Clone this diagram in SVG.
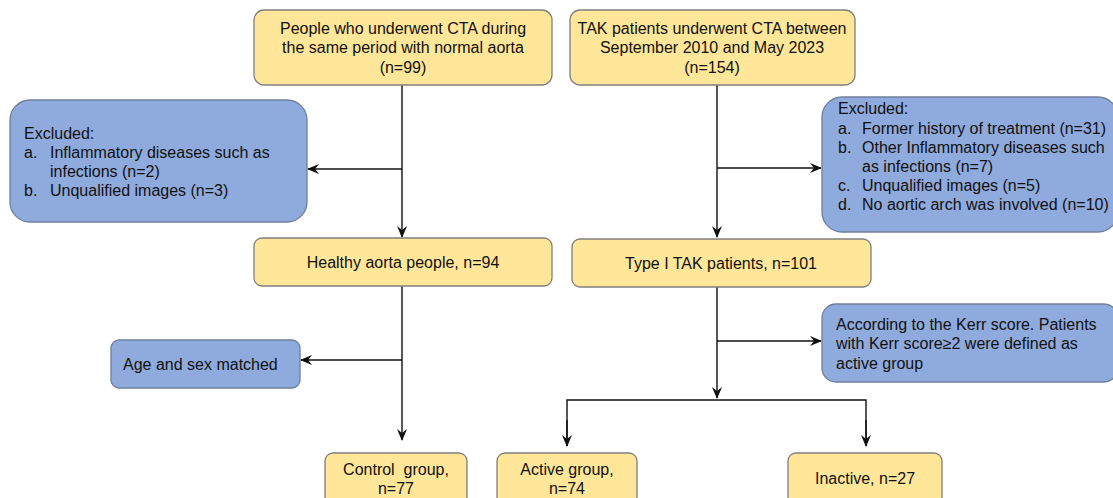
<svg xmlns="http://www.w3.org/2000/svg" width="1113" height="498" viewBox="0 0 1113 498">
<defs>
<style>
.y{fill:#FFE699;stroke:#7F7F7F;stroke-width:1.3}
.b{fill:#8FAADC;stroke:#6F7F9A;stroke-width:1.3}
text{font-family:"Liberation Sans",Arial,sans-serif;font-size:16px;fill:#111}
.c{text-anchor:middle}
.ln{stroke:#111;stroke-width:1.4;fill:none;marker-end:url(#ah)}
.pl{stroke:#111;stroke-width:1.4;fill:none}
</style>
<marker id="ah" viewBox="0 0 12 10" refX="11" refY="5" markerWidth="12" markerHeight="10" markerUnits="userSpaceOnUse" orient="auto">
<path d="M0,0 L12,5 L0,10 L4,5 z" fill="#111"/>
</marker>
</defs>
<rect width="1113" height="498" fill="#fff"/>
<g id="connectors">
<line class="ln" x1="402" y1="85" x2="402" y2="237"/>
<line class="ln" x1="402" y1="169" x2="308" y2="169"/>
<line class="ln" x1="717" y1="85" x2="717" y2="237"/>
<line class="ln" x1="717" y1="168" x2="821" y2="168"/>
<line class="ln" x1="402" y1="286" x2="402" y2="440"/>
<line class="ln" x1="402" y1="360" x2="301" y2="360"/>
<line class="ln" x1="717" y1="287" x2="717" y2="398"/>
<line class="ln" x1="717" y1="341" x2="821" y2="341"/>
<polyline class="pl" points="567,446 567,400 866,400 866,446"/>
<line class="ln" x1="567" y1="420" x2="567" y2="446"/>
<line class="ln" x1="866" y1="420" x2="866" y2="446"/>
</g>
<g id="n_normal">
<rect class="y" x="254" y="10" width="298" height="75" rx="10"/>
<text class="c" x="403" y="34">People who underwent CTA during</text>
<text class="c" x="403" y="53">the same period with normal aorta</text>
<text class="c" x="403" y="73">(n=99)</text>
</g>
<g id="n_tak">
<rect class="y" x="570" y="10" width="285" height="75" rx="10"/>
<text class="c" x="712" y="34">TAK patients underwent CTA between</text>
<text class="c" x="712" y="53">September 2010 and May 2023</text>
<text class="c" x="712" y="73">(n=154)</text>
</g>
<g id="n_excl_left">
<rect class="b" x="10" y="100" width="297" height="122" rx="20"/>
<text x="24" y="139">Excluded:</text>
<text x="24" y="158">a.</text>
<text x="50" y="158">Inflammatory diseases such as</text>
<text x="50" y="177">infections (n=2)</text>
<text x="24" y="196">b.</text>
<text x="50" y="196">Unqualified images (n=3)</text>
</g>
<g id="n_excl_right">
<rect class="b" x="822" y="97" width="296" height="135" rx="20"/>
<text x="838" y="114">Excluded:</text>
<text x="838" y="134">a.</text>
<text x="862" y="134">Former history of treatment (n=31)</text>
<text x="838" y="153">b.</text>
<text x="862" y="153">Other Inflammatory diseases such</text>
<text x="862" y="172">as infections (n=7)</text>
<text x="838" y="191">c.</text>
<text x="862" y="191">Unqualified images (n=5)</text>
<text x="838" y="210">d.</text>
<text x="862" y="210">No aortic arch was involved (n=10)</text>
</g>
<g id="n_healthy">
<rect class="y" x="254" y="238" width="298" height="48" rx="8"/>
<text class="c" x="403" y="268">Healthy aorta people, n=94</text>
</g>
<g id="n_type1">
<rect class="y" x="572" y="239" width="299" height="48" rx="8"/>
<text class="c" x="721" y="269">Type I TAK patients, n=101</text>
</g>
<g id="n_kerr">
<rect class="b" x="822" y="304" width="296" height="78" rx="14"/>
<text x="836" y="330">According to the Kerr score. Patients</text>
<text x="836" y="349">with Kerr score≥2 were defined as</text>
<text x="836" y="369">active group</text>
</g>
<g id="n_age">
<rect class="b" x="111" y="340" width="189" height="48" rx="8"/>
<text x="123" y="370">Age and sex matched</text>
</g>
<g id="n_control">
<rect class="y" x="325" y="453" width="142" height="52" rx="8"/>
<text class="c" x="396" y="475" xml:space="preserve">Control  group,</text>
<text class="c" x="396" y="494">n=77</text>
</g>
<g id="n_active">
<rect class="y" x="497" y="453" width="140" height="52" rx="8"/>
<text class="c" x="567" y="475">Active group,</text>
<text class="c" x="567" y="494">n=74</text>
</g>
<g id="n_inactive">
<rect class="y" x="788" y="453" width="154" height="52" rx="8"/>
<text class="c" x="865" y="484">Inactive, n=27</text>
</g>
</svg>
